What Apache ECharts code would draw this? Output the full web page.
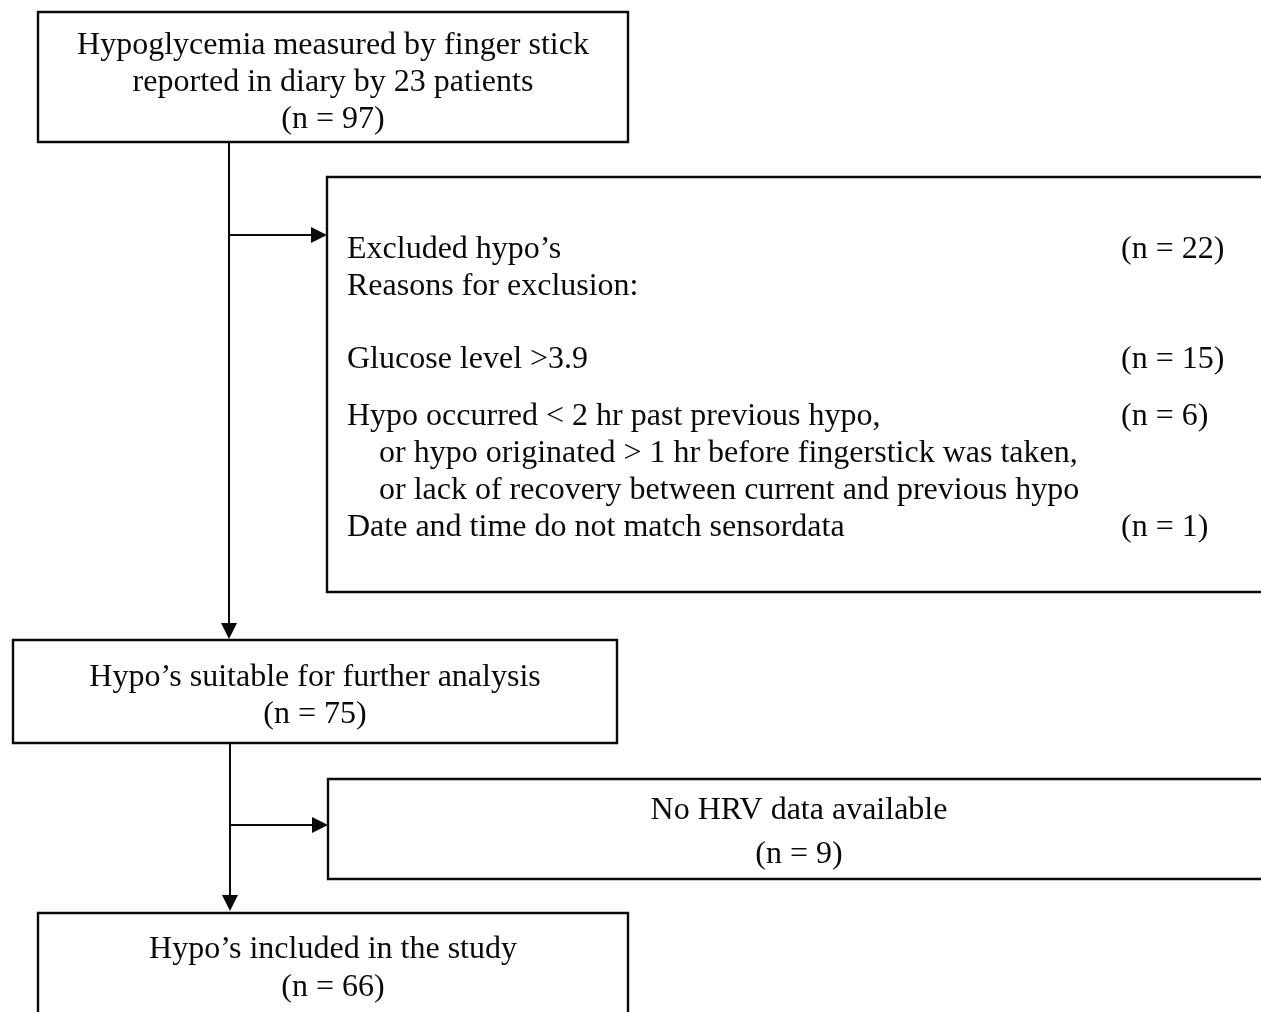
<!DOCTYPE html>
<html>
<head>
<meta charset="utf-8">
<script src="https://cdn.jsdelivr.net/npm/echarts@6/dist/echarts.min.js"></script>
<style>html,body{margin:0;padding:0;background:#fff;}#main{width:1261px;height:1012px;}</style>
</head>
<body>
<div id="main"></div>
<script>
// ---- data ----
var startLines = ['Hypoglycemia measured by finger stick', 'reported in diary by 23 patients'];
var startCount = 97;
var excludedTitle = 'Excluded hypo\u2019s';
var excludedSub = 'Reasons for exclusion:';
var excludedCount = 22;
var reasonLabels = [
  ['Glucose level >3.9'],
  ['Hypo occurred < 2 hr past previous hypo,', 'or hypo originated > 1 hr before fingerstick was taken,', 'or lack of recovery between current and previous hypo'],
  ['Date and time do not match sensordata']
];
var reasonCounts = [15, 6, 1];
var suitableLabel = 'Hypo\u2019s suitable for further analysis';
var suitableCount = 75;
var noHrvLabel = 'No HRV data available';
var noHrvCount = 9;
var includedLabel = 'Hypo\u2019s included in the study';
var includedCount = 66;

// ---- layout ----
var FONT = '"Liberation Serif", "Times New Roman", serif';
var FS = 32;
var DY = 3;
var INK = '#0a0a0a';
function nText(n) { return '(n = ' + n + ')'; }
function txt(x, y, s, align) {
  return { type: 'text', x: x, y: y + DY, style: { text: s, fill: INK, font: FS + 'px ' + FONT, textAlign: align || 'left', textVerticalAlign: 'middle' } };
}
function box(x, y, w, h) {
  return { type: 'rect', shape: { x: x, y: y, width: w, height: h }, style: { fill: '#fff', stroke: INK, lineWidth: 2.4 } };
}
function line(x1, y1, x2, y2) {
  return { type: 'line', shape: { x1: x1, y1: y1, x2: x2, y2: y2 }, style: { stroke: INK, lineWidth: 2 } };
}
function arrowDown(x, y) { // tip at (x,y)
  return { type: 'polygon', shape: { points: [[x - 8, y - 16], [x + 8, y - 16], [x, y]] }, style: { fill: INK } };
}
function arrowRight(x, y) {
  return { type: 'polygon', shape: { points: [[x - 16, y - 8], [x - 16, y + 8], [x, y]] }, style: { fill: INK } };
}

var els = [];
// connectors
els.push(line(229, 142, 229, 626), arrowDown(229, 639));
els.push(line(229, 235, 314, 235), arrowRight(327, 235));
els.push(line(230, 743, 230, 898), arrowDown(230, 911));
els.push(line(230, 825, 315, 825), arrowRight(328, 825));

// box 1
els.push(box(38, 12, 590, 130));
var lh = 37;
var allStart = startLines.concat([nText(startCount)]);
allStart.forEach(function (s, i) { els.push(txt(333, 43 + i * lh, s, 'center')); });

// box 2 (excluded)
els.push(box(327, 177, 1000, 415));
els.push(txt(347, 247, excludedTitle));
els.push(txt(1121, 247, nText(excludedCount)));
els.push(txt(347, 284, excludedSub));
var yRow = [357, 414, 525];
reasonLabels.forEach(function (lines, r) {
  lines.forEach(function (s, j) {
    els.push(txt(j === 0 ? 347 : 379, yRow[r] + j * lh, s));
  });
  els.push(txt(1121, yRow[r], nText(reasonCounts[r])));
});

// box 3
els.push(box(13, 640, 604, 103));
els.push(txt(315, 675, suitableLabel, 'center'));
els.push(txt(315, 712, nText(suitableCount), 'center'));

// box 4
els.push(box(328, 779, 1000, 100));
els.push(txt(799, 808, noHrvLabel, 'center'));
els.push(txt(799, 852, nText(noHrvCount), 'center'));

// box 5
els.push(box(38, 913, 590, 140));
els.push(txt(333, 947, includedLabel, 'center'));
els.push(txt(333, 985, nText(includedCount), 'center'));

var chart = echarts.init(document.getElementById('main'), null, { renderer: 'canvas' });
chart.setOption({ backgroundColor: '#fff', animation: false, graphic: { elements: els } });
</script>
</body>
</html>
